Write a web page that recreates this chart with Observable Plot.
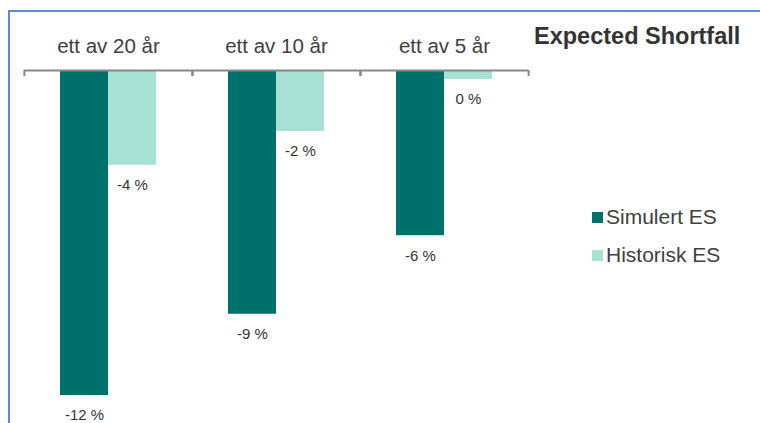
<!DOCTYPE html>
<html>
<head>
<meta charset="utf-8">
<script src="https://cdn.jsdelivr.net/npm/d3@7"></script>
<script src="https://cdn.jsdelivr.net/npm/@observablehq/plot@0.6"></script>
<style>
  html, body { margin: 0; padding: 0; background: #fff; }
  #wrap { position: relative; width: 760px; height: 423px; overflow: hidden; font-family: "Liberation Sans", Arial, sans-serif; color: #404040; }
  #frame { position: absolute; left: 8px; top: 10px; width: 800px; height: 500px; border-left: 2px solid #5f8bcc; border-top: 2px solid #5f8bcc; pointer-events: none; }
  #title { position: absolute; left: 534px; top: 23px; font-size: 23.5px; font-weight: bold; color: #333; white-space: nowrap; }
  #legend { position: absolute; left: 592px; top: 203px; font-size: 21px; color: #404040; }
  .row { display: flex; align-items: center; height: 28px; margin-bottom: 10px; white-space: nowrap; }
  .sw { width: 11px; height: 11px; margin-right: 3px; }
  #chart { position: absolute; left: 0; top: 0; }
</style>
</head>
<body>
<div id="wrap">
  <div id="chart"></div>
  <div id="frame"></div>
  <div id="title"></div>
  <div id="legend"></div>
</div>
<script>
const categories = ["ett av 20 år", "ett av 10 år", "ett av 5 år"];
const series = ["Simulert ES", "Historisk ES"];
const simulert = [-12.0, -9.0, -6.1];
const historisk = [-3.5, -2.25, -0.33];
const simulertLabels = ["-12 %", "-9 %", "-6 %"];
const historiskLabels = ["-4 %", "-2 %", "0 %"];
const colors = ["#00706B", "#A6E1D3"];
const titleText = "Expected Shortfall";
const yDomain = [-12, 0];

const rows = [];
categories.forEach((c, i) => {
  rows.push({category: c, series: series[0], value: simulert[i], label: simulertLabels[i]});
  rows.push({category: c, series: series[1], value: historisk[i], label: historiskLabels[i]});
});

const W = 760, H = 423, mL = 23, mR = 232, mT = 70, mB = 28;
const pOuter = 0.75;
const facetW = (W - mL - mR) / categories.length;
const step = facetW / (series.length + 2 * pOuter);
const edgeOffset = pOuter * step + step / 2;
const tickLen = 6 * (yDomain[1] - yDomain[0]) / (H - mT - mB);

const plot = Plot.plot({
  width: W,
  height: H,
  marginLeft: mL,
  marginRight: mR,
  marginTop: mT,
  marginBottom: mB,
  style: {fontFamily: "Liberation Sans, Arial, sans-serif", color: "#404040", background: "transparent", overflow: "visible"},
  facet: {data: rows, x: "category"},
  fx: {domain: categories, padding: 0, axis: null, label: null},
  x: {domain: series, paddingInner: 0, paddingOuter: pOuter, axis: null, label: null},
  y: {domain: yDomain, axis: null, label: null},
  color: {domain: series, range: colors},
  marks: [
    Plot.barY(rows, {x: "series", y: "value", fill: "series"}),
    Plot.ruleY([0], {stroke: "#888", strokeWidth: 2}),
    Plot.ruleX([series[0]], {x: d => d, y1: 0, y2: -tickLen, dx: -edgeOffset, stroke: "#888", strokeWidth: 2}),
    Plot.ruleX([series[series.length - 1]], {x: d => d, y1: 0, y2: -tickLen, dx: edgeOffset, stroke: "#888", strokeWidth: 2}),
    Plot.text(rows, {x: "series", y: "value", text: "label", dy: 20, fontSize: 15, fill: "#333"}),
    Plot.text(rows, {filter: d => d.series === series[0], text: "category", frameAnchor: "top", lineAnchor: "middle", dy: -24, fontSize: 20.5, fill: "#404040"})
  ]
});
document.getElementById("chart").appendChild(plot);

document.getElementById("title").textContent = titleText;
const legend = document.getElementById("legend");
series.forEach((s, i) => {
  const row = document.createElement("div");
  row.className = "row";
  const sw = document.createElement("span");
  sw.className = "sw";
  sw.style.background = colors[i];
  const t = document.createElement("span");
  t.textContent = s;
  row.appendChild(sw);
  row.appendChild(t);
  legend.appendChild(row);
});
</script>
</body>
</html>
